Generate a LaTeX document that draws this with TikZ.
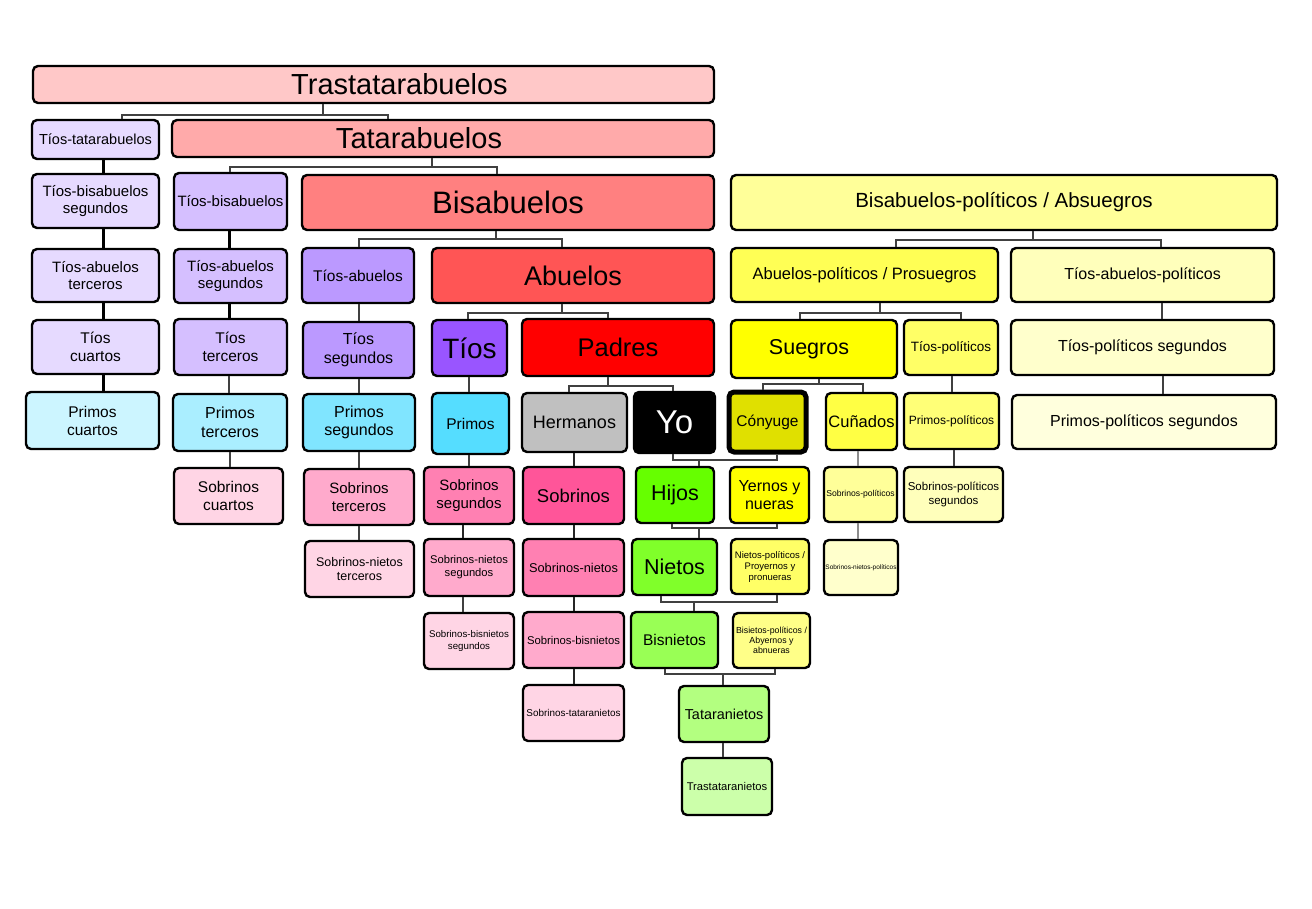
\documentclass[tikz,border=0pt]{standalone}
\usepackage{fontspec}
\setmainfont{Liberation Sans}
\definecolor{cTra}{HTML}{FFC8C8}
\definecolor{cTat}{HTML}{FFAAAA}
\definecolor{cBis}{HTML}{FF8080}
\definecolor{cAbu}{HTML}{FF5555}
\definecolor{cPad}{HTML}{FF0000}
\definecolor{cLa}{HTML}{E6DAFF}
\definecolor{cLb}{HTML}{D5BFFF}
\definecolor{cLc}{HTML}{BB99FF}
\definecolor{cLd}{HTML}{9955FF}
\definecolor{cPa}{HTML}{CCF5FF}
\definecolor{cPb}{HTML}{AAEEFF}
\definecolor{cPc}{HTML}{80E5FF}
\definecolor{cPd}{HTML}{55DDFF}
\definecolor{cSa}{HTML}{FFD5E5}
\definecolor{cSb}{HTML}{FFAACC}
\definecolor{cSc}{HTML}{FF80B2}
\definecolor{cSd}{HTML}{FF5599}
\definecolor{cHer}{HTML}{C0C0C0}
\definecolor{cGa}{HTML}{66FF00}
\definecolor{cGb}{HTML}{80FF2A}
\definecolor{cGc}{HTML}{99FF55}
\definecolor{cGd}{HTML}{B3FF80}
\definecolor{cGe}{HTML}{CCFFAA}
\definecolor{yA}{HTML}{FFFF99}
\definecolor{yB}{HTML}{FFFF55}
\definecolor{yC}{HTML}{FFFFBB}
\definecolor{ySue}{HTML}{FFFF00}
\definecolor{yTpol}{HTML}{FFFF66}
\definecolor{yTpolb}{HTML}{FFFFCC}
\definecolor{yCon}{HTML}{E0E000}
\definecolor{yCun}{HTML}{FFFF44}
\definecolor{yPpol}{HTML}{FFFF77}
\definecolor{yPpolb}{HTML}{FFFFDD}
\definecolor{yYer}{HTML}{FFFF00}
\definecolor{ySpol}{HTML}{FFFF99}
\definecolor{ySpolb}{HTML}{FFFFBB}
\definecolor{yNpol}{HTML}{FFFF66}
\definecolor{ySnpol}{HTML}{FFFFCC}
\definecolor{yBpol}{HTML}{FFFF88}
\newcommand{\mkbx}[7]{%
  \pgfmathsetmacro{\bxcx}{(#2+#4)/2}%
  \pgfmathsetmacro{\bxcy}{(#3+#5)/2}%
  \pgfmathsetmacro{\bxw}{#4-#2}%
  \pgfmathsetmacro{\bxh}{#5-#3}%
  \node[box,#6,minimum width=\bxw pt,minimum height=\bxh pt] (#1) at (\bxcx,\bxcy) {#7};}
% parent, x of stem, y of bar, x left, left child, x right, right child
\newcommand{\mkfork}[7]{%
  \draw[conn] (#1.south -| #2,0) -- (#2,#3);
  \draw[conn] (#5.north -| #4,0) |- (#6,#3) -- (#7.north -| #6,0);}
% parent1, x1, parent2, x2, y bar, x drop, child
\newcommand{\mkcouple}[7]{%
  \draw[conn] (#1.south -| #2,0) |- (#4,#5) -- (#3.south -| #4,0);
  \draw[conn] (#6,#5) -- (#7.north -| #6,0);}
% style, upper, lower, x
\newcommand{\mkvl}[4]{\draw[#1] (#2.south -| #4,0) -- (#3.north -| #4,0);}
\begin{document}
\begin{tikzpicture}[x=1pt,y=-1pt,
  box/.style={draw=black,line width=2.4pt,rounded corners=5pt,inner sep=0pt,align=center,text=black},
  fs/.style 2 args={font=\fontsize{#1}{#2}\selectfont},
  conn/.style={draw=black!75,line width=1.4pt},
  connM/.style={draw=black!85,line width=2.2pt},
  connB/.style={draw=black,line width=3pt},
  connG/.style={draw=black!45,line width=1.8pt}]
\useasboundingbox (0,0) rectangle (1312,909);
\fill[white] (0,0) rectangle (1312,909);
% rows
\mkbx{tra}{33}{66}{714}{103}{fill=cTra,fs={29}{34}}{\hspace*{52pt}Trastatarabuelos}
\mkbx{ttb}{32}{120}{159}{159}{fill=cLa,fs={14.5}{17}}{Tíos-tatarabuelos}
\mkbx{tat}{172}{120}{714}{157}{fill=cTat,fs={29}{34}}{Tatarabuelos\hspace*{48pt}}
\mkbx{tbs}{32}{174}{159}{228}{fill=cLa,fs={15}{17.5}}{Tíos-bisabuelos\\segundos}
\mkbx{tb}{174}{173}{287}{230}{fill=cLb,fs={15}{17.5}}{Tíos-bisabuelos}
\mkbx{bis}{302}{175}{714}{230}{fill=cBis,fs={31}{36}}{Bisabuelos}
\mkbx{bpol}{731}{175}{1277}{230}{fill=yA,fs={20.5}{24}}{Bisabuelos-políticos / Absuegros}
\mkbx{tac}{32}{249}{159}{302}{fill=cLa,fs={15}{17.5}}{Tíos-abuelos\\terceros}
\mkbx{tab}{174}{249}{287}{303}{fill=cLb,fs={15}{17.5}}{Tíos-abuelos\\segundos}
\mkbx{ta}{302}{248}{414}{303}{fill=cLc,fs={15.5}{18}}{Tíos-abuelos}
\mkbx{abu}{432}{248}{714}{303}{fill=cAbu,fs={27}{31}}{Abuelos}
\mkbx{apol}{731}{248}{998}{302}{fill=yB,fs={16.5}{19}}{Abuelos-políticos / Prosuegros}
\mkbx{tapol}{1011}{248}{1274}{302}{fill=yC,fs={16}{19}}{Tíos-abuelos-políticos}
\mkbx{td}{32}{320}{159}{374}{fill=cLa,fs={15.5}{18}}{Tíos\\cuartos}
\mkbx{tc}{174}{319}{287}{375}{fill=cLb,fs={15.5}{18}}{Tíos\\terceros}
\mkbx{tsb}{303}{322}{414}{378}{fill=cLc,fs={16}{18.5}}{Tíos\\segundos}
\mkbx{tios}{432}{320}{507}{376}{fill=cLd,fs={28}{32}}{Tíos}
\mkbx{pad}{522}{319}{714}{376}{fill=cPad,fs={25.5}{30}}{Padres}
\mkbx{sue}{731}{320}{897}{378}{fill=ySue,fs={21.5}{25}}{Suegros\hspace*{10pt}}
\mkbx{tpol}{904}{320}{998}{375}{fill=yTpol,fs={13.5}{16}}{Tíos-políticos}
\mkbx{tpolb}{1011}{320}{1274}{375}{fill=yTpolb,fs={16}{19}}{Tíos-políticos segundos}
\mkbx{pd}{26}{392}{159}{449}{fill=cPa,fs={15.5}{18}}{Primos\\cuartos}
\mkbx{pc}{173}{394}{287}{451}{fill=cPb,fs={16}{18.5}}{Primos\\terceros}
\mkbx{pb}{303}{394}{415}{451}{fill=cPc,fs={16}{18.5}}{Primos\\segundos}
\mkbx{pri}{432}{393}{509}{454}{fill=cPd,fs={15.5}{18}}{Primos}
\mkbx{her}{522}{393}{627}{452}{fill=cHer,fs={18}{21}}{Hermanos}
\mkbx{yo}{634}{392}{715}{453}{fill=black,text=white,fs={33}{38}}{Yo}
\mkbx{con}{729}{392}{806}{452}{fill=yCon,fs={15.5}{18},line width=5pt}{Cónyuge}
\mkbx{cun}{826}{393}{897}{450}{fill=yCun,fs={16.5}{19}}{Cuñados}
\mkbx{ppol}{904}{393}{999}{449}{fill=yPpol,fs={12}{14}}{Primos-políticos}
\mkbx{ppolb}{1012}{395}{1276}{449}{fill=yPpolb,fs={16}{19}}{Primos-políticos segundos}
\mkbx{sd}{174}{468}{283}{524}{fill=cSa,fs={15.5}{18}}{Sobrinos\\cuartos}
\mkbx{sc}{304}{469}{414}{525}{fill=cSb,fs={15}{17.5}}{Sobrinos\\terceros}
\mkbx{ssb}{424}{467}{514}{524}{fill=cSc,fs={15}{17.5}}{Sobrinos\\segundos}
\mkbx{sob}{523}{467}{624}{524}{fill=cSd,fs={18.5}{21}}{Sobrinos}
\mkbx{hij}{636}{467}{714}{523}{fill=cGa,fs={21.5}{25}}{Hijos}
\mkbx{yer}{730}{467}{809}{523}{fill=yYer,fs={16}{18.5}}{Yernos y\\nueras}
\mkbx{spol}{824}{467}{897}{522}{fill=ySpol,fs={8.6}{10}}{Sobrinos-políticos}
\mkbx{spolb}{904}{467}{1003}{522}{fill=ySpolb,fs={11.5}{13.5}}{Sobrinos-políticos\\segundos}
\mkbx{snc}{305}{541}{414}{597}{fill=cSa,fs={12.5}{14.5}}{Sobrinos-nietos\\terceros}
\mkbx{snb}{424}{539}{514}{596}{fill=cSb,fs={11.2}{13}}{Sobrinos-nietos\\segundos}
\mkbx{sn}{523}{539}{624}{596}{fill=cSc,fs={12.8}{15}}{Sobrinos-nietos}
\mkbx{nie}{632}{539}{717}{595}{fill=cGb,fs={21.5}{25}}{Nietos}
\mkbx{npol}{731}{539}{809}{594}{fill=yNpol,fs={9.5}{11}}{Nietos-políticos /\\Proyernos y\\pronueras}
\mkbx{snpol}{824}{540}{898}{595}{fill=ySnpol,fs={6.5}{8}}{Sobrinos-nietos-políticos}
\mkbx{sbb}{424}{613}{514}{669}{fill=cSa,fs={9.7}{11.5}}{Sobrinos-bisnietos\\segundos}
\mkbx{sbn}{523}{612}{624}{668}{fill=cSb,fs={11.3}{13}}{Sobrinos-bisnietos}
\mkbx{bn}{631}{612}{718}{668}{fill=cGc,fs={15.5}{18}}{Bisnietos}
\mkbx{bpolb}{733}{613}{810}{668}{fill=yBpol,fs={8.8}{10}}{Bisietos-políticos /\\Abyernos y\\abnueras}
\mkbx{stn}{523}{685}{624}{741}{fill=cSa,fs={9.9}{11.5}}{Sobrinos-tataranietos}
\mkbx{tn}{679}{686}{769}{742}{fill=cGd,fs={14.4}{17}}{Tataranietos}
\mkbx{ttn}{682}{758}{772}{815}{fill=cGe,fs={11.2}{13}}{Trastataranietos}
% forks
\mkfork{tra}{323}{115}{122}{ttb}{388}{tat}
\mkfork{tat}{432}{167}{230}{tb}{497}{bis}
\mkfork{bis}{496}{239}{359}{ta}{562}{abu}
\mkfork{bpol}{1033}{240}{896}{apol}{1161}{tapol}
\mkfork{abu}{562}{313}{468}{tios}{608}{pad}
\mkfork{apol}{880}{313}{800}{sue}{961}{tpol}
\mkfork{pad}{608}{386}{569}{her}{673}{yo}
\mkfork{sue}{819}{384}{763}{con}{863}{cun}
% couples
\mkcouple{yo}{673}{con}{777}{460}{699}{hij}
\mkcouple{hij}{672}{yer}{777}{528}{699}{nie}
\mkcouple{nie}{661}{npol}{777}{602}{694}{bn}
\mkcouple{bn}{665}{bpolb}{775}{674}{723}{tn}
% columns
\mkvl{connB}{ttb}{tbs}{103}
\mkvl{connB}{tbs}{tac}{103}
\mkvl{connB}{tac}{td}{103}
\mkvl{connB}{td}{pd}{103}
\mkvl{connB}{tb}{tab}{229}
\mkvl{connB}{tab}{tc}{229}
\mkvl{conn}{tc}{pc}{229}
\mkvl{conn}{pc}{sd}{230}
\mkvl{conn}{ta}{tsb}{359}
\mkvl{conn}{tsb}{pb}{359}
\mkvl{conn}{pb}{sc}{359}
\mkvl{conn}{sc}{snc}{359}
\mkvl{conn}{tios}{pri}{469}
\mkvl{conn}{pri}{ssb}{469}
\mkvl{connM}{ssb}{snb}{463}
\mkvl{conn}{snb}{sbb}{463}
\mkvl{connM}{her}{sob}{574}
\mkvl{connM}{sob}{sn}{574}
\mkvl{connM}{sn}{sbn}{574}
\mkvl{connM}{sbn}{stn}{574}
\mkvl{conn}{tn}{ttn}{723}
\mkvl{conn}{tapol}{tpolb}{1162}
\mkvl{conn}{tpolb}{ppolb}{1163}
\mkvl{conn}{tpol}{ppol}{952}
\mkvl{conn}{ppol}{spolb}{954}
\mkvl{connG}{cun}{spol}{858}
\mkvl{connG}{spol}{snpol}{858}
\end{tikzpicture}
\end{document}
